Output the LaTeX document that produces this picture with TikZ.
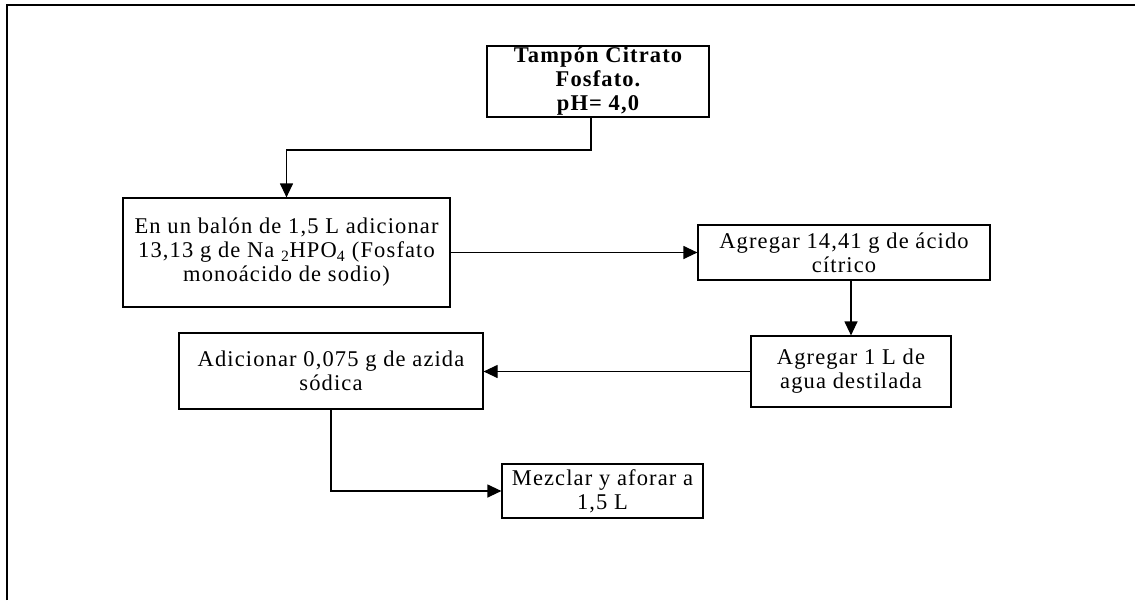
\documentclass[tikz,border=0pt]{standalone}
\usepackage{fontspec}
\setmainfont{Liberation Serif}[LetterSpace=5]
\usetikzlibrary{arrows.meta}
\begin{document}
\begin{tikzpicture}[x=1pt,y=-1pt,
  box/.style={draw, line width=1.2pt, inner sep=0pt, align=center,
    font=\fontsize{22.5}{24}\selectfont},
  flow/.style={line width=1.2pt, -{Triangle[length=14pt,width=13pt]}},
  link/.style={line width=1.2pt}]
\useasboundingbox (0,0) rectangle (1135,600);
% page frame (top and left rules)
\draw[line width=2pt] (7,600) -- (7,4.5) -- (1135,4.5);

% process steps
\node[box, font=\fontsize{22.5}{24}\selectfont\bfseries,
      minimum width=222pt, minimum height=71pt] (b1) at (598,81.5)
  {Tampón Citrato\\ Fosfato.\\ pH= 4,0};
\node[box, minimum width=327pt, minimum height=109pt] (b2) at (286.5,252.5)
  {En un balón de 1,5 L adicionar\\ 13,13 g de Na \textsubscript{2}HPO\textsubscript{4} (Fosfato\\ monoácido de sodio)};
\node[box, minimum width=292pt, minimum height=55pt] (b3) at (844,252.5)
  {Agregar 14,41 g de ácido\\ cítrico};
\node[box, minimum width=200pt, minimum height=71pt] (b4) at (851,371.5)
  {Agregar 1 L de\\ agua destilada};
\node[box, minimum width=304pt, minimum height=76pt] (b5) at (331,371)
  {Adicionar 0,075 g de azida\\ sódica};
\node[box, minimum width=201pt, minimum height=54pt] (b6) at (602.5,491)
  {Mezclar y aforar a\\ 1,5 L};

% connectors
\coordinate (k1) at (591,150);
\draw[flow] (b1.south -| k1) -- (k1) -| (b2.north);
\draw[flow] (b2.east) -- (b3.west);
\draw[flow] (b3.south -| b4.north) -- (b4.north);
\draw[flow] (b4.west) -- (b4.west -| b5.east);
\draw[flow] (b5.south) |- (b6.west);
\end{tikzpicture}
\end{document}
